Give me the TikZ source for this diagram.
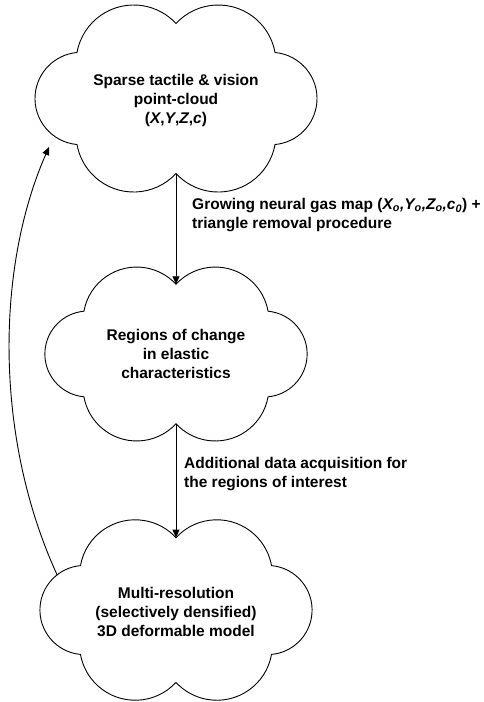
\documentclass[tikz,border=0pt]{standalone}
\usepackage{fontspec}
\setmainfont{Liberation Sans}
\usetikzlibrary{arrows.meta}
\tikzset{
	cloudline/.style ={draw=black, line width=0.9pt},
	cloudtext/.style ={align=center, inner sep=0pt, font=\bfseries\fontsize{15.5}{19}\selectfont},
	edgelabel/.style ={anchor=west, align=left, inner sep=0pt, font=\bfseries\fontsize{15.5}{19}\selectfont},
	flowarrow/.style ={-{Triangle[length=8pt, width=7pt]}, line width=0.9pt},
	% cloud outline, with anchors for the arrows
	pics/puff/.style ={code={
		\draw[cloudline] (-99,46) arc[start angle=169.9, end angle=42.75, radius=57.6]
			arc[start angle=137.25, end angle=10.1, radius=57.6]
			arc[start angle=84.8, end angle=-84.8, radius=46.2]
			arc[start angle=-10.1, end angle=-137.25, radius=57.6]
			arc[start angle=-42.75, end angle=-169.9, radius=57.6]
			arc[start angle=264.8, end angle=95.2, radius=46.2] -- cycle;
		\coordinate (-n) at (0,75);
		\coordinate (-s) at (0,-75);
		\coordinate (-w) at (-123,36);
		\coordinate (-sw) at (-127,-48.5);
	}},
}
\begin{document}
\begin{tikzpicture}[x=1pt, y=1pt]
	\useasboundingbox (0,-702) rectangle (484,0);
	\pic (pc) at (176,-98.5) {puff};
	\pic[scale=0.93] (roc) at (176,-354) {puff};
	\pic[scale=0.965] (mrm) at (176,-610) {puff};
	\node[cloudtext] (pctext) at (176,-100) {Sparse tactile \& vision\\point-cloud\\(\textit{X},\textit{Y},\textit{Z},\textit{c})};
	\node[cloudtext] (roctext) at (176,-354) {Regions of change\\in elastic\\characteristics};
	\node[cloudtext] (mrmtext) at (176,-612) {Multi-resolution\\(selectively densified)\\3D deformable model};
	\node[edgelabel] (gng) at (192,-215) {Growing neural gas map (\textit{X\textsubscript{o},Y\textsubscript{o},Z\textsubscript{o},c\textsubscript{0}}) +\\triangle removal procedure};
	\node[edgelabel] (acq) at (184,-474) {Additional data acquisition for\\the regions of interest};
	\draw[flowarrow] (pc-s) -- (roc-n);
	\draw[flowarrow] (roc-s) -- (mrm-n);
	\draw[flowarrow] (mrm-w) .. controls (-5,-440) and (-5,-270) .. (pc-sw);
\end{tikzpicture}
\end{document}
